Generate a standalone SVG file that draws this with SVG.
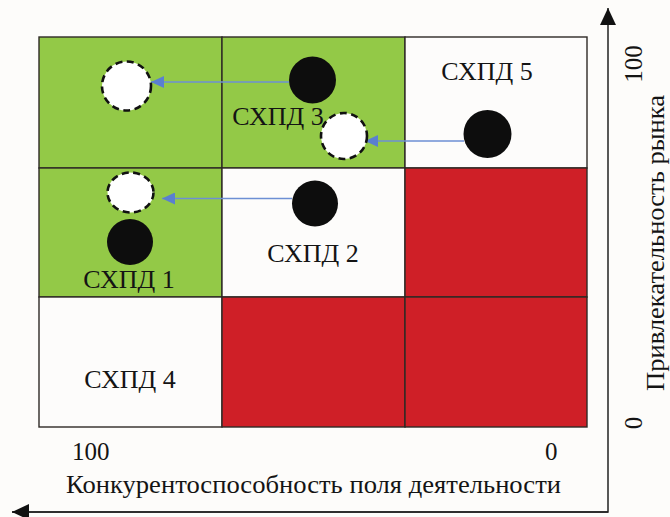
<svg xmlns="http://www.w3.org/2000/svg" width="670" height="517" viewBox="0 0 670 517">
<style>
.g{fill:#93c947}
.w{fill:#fdfcfb}
.r{fill:#cf1f27}
.cell{stroke:#2e2a26;stroke-width:1.4}
.lbl{font-family:"Liberation Serif","DejaVu Serif","Times New Roman",serif;font-size:26px;fill:#141414;text-anchor:middle}
.ax{font-family:"Liberation Serif","DejaVu Serif","Times New Roman",serif;font-size:25px;fill:#141414}
.dot{fill:#0d0d0d}
.ghost{fill:#ffffff;stroke:#111;stroke-width:2.6;stroke-dasharray:7 4.5}
.mv{stroke:#6d8fd4;stroke-width:1.6;fill:none}
.axis{stroke:#222;stroke-width:1.5;fill:none}
</style>
<defs>
<marker id="blueHead" viewBox="0 0 13 12" refX="13" refY="6" markerWidth="13" markerHeight="12" markerUnits="userSpaceOnUse" orient="auto">
<path d="M0,0 L13,6 L0,12 Z" fill="#5a7fd0"/>
</marker>
<marker id="axHead" viewBox="0 0 17 16" refX="17" refY="8" markerWidth="17" markerHeight="16" markerUnits="userSpaceOnUse" orient="auto">
<path d="M0,0 L17,8 L0,16 Z" fill="#111"/>
</marker>
</defs>
<rect x="0" y="0" width="670" height="517" fill="#fdfcfa"/>

<g id="grid">
<rect id="c11" class="g cell" x="39" y="37" width="183" height="131"/>
<rect id="c12" class="g cell" x="222" y="37" width="183" height="131"/>
<rect id="c13" class="w cell" x="405" y="37" width="182" height="131"/>
<rect id="c21" class="g cell" x="39" y="168" width="183" height="129"/>
<rect id="c22" class="w cell" x="222" y="168" width="183" height="129"/>
<rect id="c23" class="r cell" x="405" y="168" width="182" height="129"/>
<rect id="c31" class="w cell" x="39" y="297" width="183" height="130"/>
<rect id="c32" class="r cell" x="222" y="297" width="183" height="130"/>
<rect id="c33" class="r cell" x="405" y="297" width="182" height="130"/>
</g>

<g id="connectors">
<line class="mv" x1="289" y1="82" x2="151" y2="82" marker-end="url(#blueHead)"/>
<line class="mv" x1="292" y1="198.5" x2="162" y2="198.5" marker-end="url(#blueHead)"/>
<line class="mv" x1="464" y1="141" x2="365" y2="141" marker-end="url(#blueHead)"/>
</g>

<g id="shpd1">
<circle class="dot" cx="130" cy="242" r="23"/>
<text class="lbl" x="129" y="288">СХПД 1</text>
</g>
<g id="shpd1-target">
<ellipse class="ghost" cx="130.5" cy="192.5" rx="23" ry="20"/>
</g>
<g id="shpd2">
<circle class="dot" cx="315" cy="203.5" r="23"/>
<text class="lbl" x="313" y="262">СХПД 2</text>
</g>
<g id="shpd3">
<circle class="dot" cx="312.5" cy="80" r="23.5"/>
<text class="lbl" x="278" y="125">СХПД 3</text>
</g>
<g id="shpd3-target">
<circle class="ghost" cx="126.5" cy="86" r="24.5"/>
</g>
<g id="shpd5-target">
<circle class="ghost" cx="344" cy="136" r="23"/>
</g>
<g id="shpd4">
<text class="lbl" x="130" y="388">СХПД 4</text>
</g>
<g id="shpd5">
<circle class="dot" cx="487.5" cy="134" r="24"/>
<text class="lbl" x="487" y="80">СХПД 5</text>
</g>

<g id="axes">
<polyline class="axis" points="12,512 608,512 608,8" marker-end="url(#axHead)"/>
<line class="axis" x1="608" y1="512" x2="12" y2="512" marker-end="url(#axHead)"/>
<text class="ax" x="72" y="460">100</text>
<text class="ax" x="545" y="460">0</text>
<text class="ax" x="313.5" y="493" text-anchor="middle" font-size="27.5" textLength="495" lengthAdjust="spacingAndGlyphs">Конкурентоспособность поля деятельности</text>
<text class="ax" transform="translate(642,64) rotate(-90)" text-anchor="middle">100</text>
<text class="ax" transform="translate(642,423) rotate(-90)" text-anchor="middle">0</text>
<text class="ax" transform="translate(664,243) rotate(-90)" text-anchor="middle" font-size="28" textLength="296" lengthAdjust="spacingAndGlyphs">Привлекательность рынка</text>
</g>
</svg>
